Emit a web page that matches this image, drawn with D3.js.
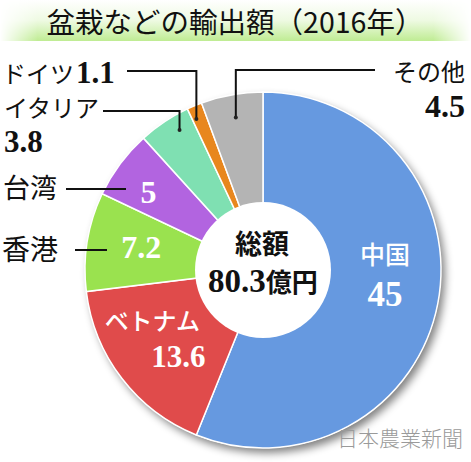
<!DOCTYPE html>
<html><head><meta charset="utf-8">
<script src="https://cdn.jsdelivr.net/npm/d3@7"></script>
<style>
html,body{margin:0;padding:0;background:#fff;}
svg{display:block;}
.num{font-family:"Liberation Serif","Times New Roman","DejaVu Serif",serif;font-weight:bold;}
.jp{font-family:"Noto Sans CJK JP","Noto Sans",sans-serif;}
</style></head>
<body>
<svg id="c" width="471" height="462"></svg>
<script>
const categories = ["中国","ベトナム","香港","台湾","イタリア","ドイツ","その他"];
const values = [45, 13.6, 7.2, 5, 3.8, 1.1, 4.5];
const valueLabels = ["45","13.6","7.2","5","3.8","1.1","4.5"];
const colors = ["#6699e0","#e04b4b","#9ae24f","#b264e0","#7fe0b2","#e8871e","#b4b4b4"];
const titleText = "盆栽などの輸出額（2016年）";
const totalLabel = ["総額","80.3","億円"];
const sourceText = "日本農業新聞";

const svg = d3.select("#c");
const W = 471, H = 462;
const cx = 263, cy = 270, R = 178, r0 = 68;
const defs = svg.append("defs");

// title band gradient
const gv = defs.append("linearGradient").attr("id","gv").attr("x1",0).attr("y1",0).attr("x2",0).attr("y2",1);
gv.append("stop").attr("offset","0%").attr("stop-color","#ffffff");
gv.append("stop").attr("offset","50%").attr("stop-color","#eefae2");
gv.append("stop").attr("offset","100%").attr("stop-color","#bfec93");
const gh = defs.append("linearGradient").attr("id","gh").attr("x1",0).attr("y1",0).attr("x2",1).attr("y2",0);
gh.append("stop").attr("offset","0%").attr("stop-color","#fff").attr("stop-opacity",0);
gh.append("stop").attr("offset","8%").attr("stop-color","#fff").attr("stop-opacity",1);
gh.append("stop").attr("offset","92%").attr("stop-color","#fff").attr("stop-opacity",1);
gh.append("stop").attr("offset","100%").attr("stop-color","#fff").attr("stop-opacity",0);
const mask = defs.append("mask").attr("id","mh");
mask.append("rect").attr("x",0).attr("y",0).attr("width",W).attr("height",41).attr("fill","url(#gh)");
svg.append("rect").attr("x",0).attr("y",0).attr("width",W).attr("height",41)
  .attr("fill","url(#gv)").attr("mask","url(#mh)");

svg.append("text").attr("class","jp").attr("x",235).attr("y",33).attr("text-anchor","middle")
  .attr("font-size",28.5).attr("font-weight",400)
  .attr("fill","#111").text(titleText);

// shadow
const f = defs.append("filter").attr("id","sh").attr("x","-20%").attr("y","-20%").attr("width","140%").attr("height","140%");
f.append("feGaussianBlur").attr("in","SourceAlpha").attr("stdDeviation",4).attr("result","b");
f.append("feOffset").attr("in","b").attr("dx",4).attr("dy",5).attr("result","o");
f.append("feComponentTransfer").attr("in","o").attr("result","o2")
  .append("feFuncA").attr("type","linear").attr("slope",0.5);
const fm = f.append("feMerge");
fm.append("feMergeNode").attr("in","o2");
fm.append("feMergeNode").attr("in","SourceGraphic");

const data = categories.map((c,i)=>({name:c, value:values[i], label:valueLabels[i], color:colors[i]}));
const pie = d3.pie().value(d=>d.value).sort(null).startAngle(0).endAngle(2*Math.PI);
const arcs = pie(data);
const arc = d3.arc().innerRadius(0).outerRadius(R);

const g = svg.append("g").attr("transform",`translate(${cx},${cy})`);
g.append("circle").attr("r",R).attr("fill","#fff").attr("filter","url(#sh)");
g.selectAll("path.s").data(arcs).join("path").attr("class","s")
  .attr("d",arc).attr("fill",d=>d.data.color).attr("stroke","#fff").attr("stroke-width",1.5);
g.append("circle").attr("r",r0).attr("fill","#fff");

const pt = (d, rad, da=0) => {
  const a = (d.startAngle + d.endAngle)/2 + da;
  return [cx + rad*Math.sin(a), cy - rad*Math.cos(a)];
};

function inner(i, rad, da, lines) {
  const [x,y] = pt(arcs[i], rad, da);
  lines.forEach(l=>{
    const t = svg.append("text").attr("class",l.c).attr("x",x+(l.dx||0)).attr("y",y+l.dy).attr("text-anchor","middle")
      .attr("font-size",l.s).attr("fill","#fff").text(l.t);
    if (l.w) t.attr("font-weight",l.w);
  });
}
inner(0, 122, -0.17, [{t:categories[0], c:"jp", dy:-9, s:25, w:500},{t:valueLabels[0], c:"num", dy:33, s:35}]);
inner(1, 120, 0.035, [{t:categories[1], c:"jp", dx:-13, dy:-10, s:24, w:500},{t:valueLabels[1], c:"num", dx:13, dy:27, s:31}]);
inner(2, 124, 0.03, [{t:valueLabels[2], c:"num", dy:11, s:32}]);
inner(3, 139, -0.037, [{t:valueLabels[3], c:"num", dy:12, s:32}]);

// center
svg.append("text").attr("class","jp").attr("x",cx-1).attr("y",cy-16).attr("text-anchor","middle")
  .attr("font-size",27).attr("font-weight","bold").attr("fill","#111").text(totalLabel[0]);
{
  const t = svg.append("text").attr("x",cx).attr("y",cy+22).attr("text-anchor","middle").attr("fill","#111");
  t.append("tspan").attr("class","num").attr("font-size",33).text(totalLabel[1]);
  t.append("tspan").attr("class","jp").attr("font-size",26).attr("font-weight","bold").text(totalLabel[2]);
}

const line = d3.line();
function leader(points){
  svg.append("path").attr("d",line(points)).attr("fill","none").attr("stroke","#111").attr("stroke-width",2);
}
function dot(p){ svg.append("circle").attr("cx",p[0]).attr("cy",p[1]).attr("r",2).attr("fill","#222"); }

// ドイツ
{
  const p = pt(arcs[5], 165, -0.02);
  leader([[127,71],[p[0],71],[p[0],p[1]]]); dot(p);
  const t = svg.append("text").attr("x",2).attr("y",83).attr("fill","#111");
  t.append("tspan").attr("class","jp").attr("font-size",24).text(categories[5]);
  t.append("tspan").attr("class","num").attr("font-size",31).attr("dx",2).text(valueLabels[5]);
}
// イタリア
{
  const p = pt(arcs[4], 163, 0.05);
  leader([[103,111],[p[0],111],[p[0],p[1]]]); dot(p);
  svg.append("text").attr("class","jp").attr("x",4).attr("y",117).attr("font-size",24).attr("fill","#111").text(categories[4]);
  svg.append("text").attr("class","num").attr("x",4).attr("y",152).attr("font-size",31).attr("fill","#111").text(valueLabels[4]);
}
// その他
{
  const p = pt(arcs[6], 155, 0.0);
  leader([[375,70],[p[0],70],[p[0],p[1]]]); dot(p);
  svg.append("text").attr("class","jp").attr("x",465).attr("y",81).attr("text-anchor","end").attr("font-size",24).attr("fill","#111").text(categories[6]);
  svg.append("text").attr("class","num").attr("x",465).attr("y",117).attr("text-anchor","end").attr("font-size",32).attr("fill","#111").text(valueLabels[6]);
}
// 台湾
svg.append("text").attr("class","jp").attr("x",3).attr("y",198).attr("font-size",27).attr("fill","#111").text(categories[3]);
leader([[66,189],[126,189]]);
// 香港
svg.append("text").attr("class","jp").attr("x",2).attr("y",260).attr("font-size",28).attr("fill","#111").text(categories[2]);
leader([[75,250],[107,250]]);

// source
svg.append("text").attr("class","jp").attr("x",463).attr("y",446).attr("text-anchor","end")
  .attr("font-size",21).attr("font-weight",300).attr("fill","#9a9a9a").text(sourceText);
</script>
</body></html>
